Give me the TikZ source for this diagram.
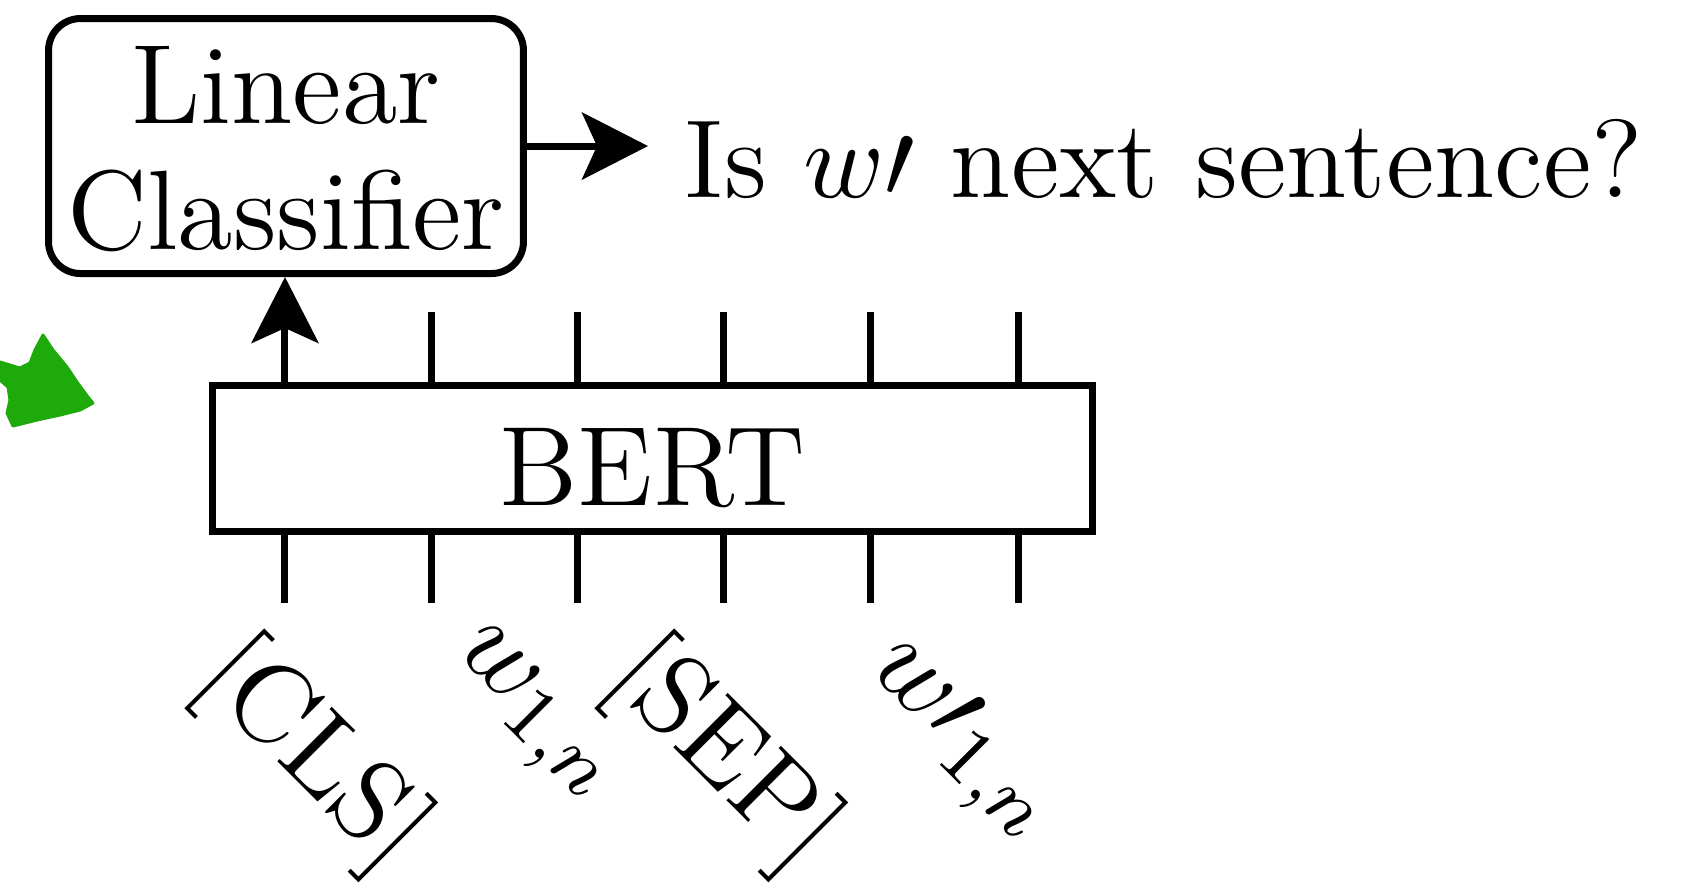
\documentclass[tikz,border=0pt]{standalone}
\usetikzlibrary{arrows.meta}
\definecolor{scribble}{RGB}{30,170,10}
\begin{document}
\begin{tikzpicture}[x=0.1pt,y=-0.1pt,
  every node/.style={font=\fontsize{11.3}{12.6}\selectfont},
  thick line/.style={line width=0.7pt},
  arr/.style={thick line,-{Stealth[length=6.6pt,width=6.7pt,inset=1.5pt]}},
  tick/.style={thick line},
  lbl/.style={rotate=-45,anchor=center,inner sep=0pt}]
\useasboundingbox (0,0) rectangle (1695,882);
% green scribble
\filldraw[scribble,line width=0.3pt,line join=round] (0,362) -- (20,368) -- (30,363) -- (35,350) -- (43,335) -- (53,350) -- (67,367) -- (77,382) -- (88,397) -- (93,403) -- (80,410) -- (60,415) -- (37,420) -- (13,426) -- (7,413) -- (10,400) -- (8,387) -- (0,380) -- cycle;
% boxes
\node[draw,thick line,rounded corners=3.2pt,minimum width=47.5pt,minimum height=25.5pt,align=center,inner sep=0pt] (cls) at (286,146) {\rule{0pt}{8.4pt}Linear\\Classifier};
\node[draw,thick line,minimum width=88.1pt,minimum height=14.6pt,text height=9.4pt,text depth=0pt,inner sep=0pt] (bert) at (652.5,458) {BERT};
\node[anchor=base west,inner xsep=3.5pt,inner ysep=0pt,font=\fontsize{11.1}{12.6}\selectfont] (q) at (648,197) {Is $w\prime$ next sentence?};
\draw[arr] (cls.east) -- (cls.east -| q.west);
% tick coordinates
\coordinate (t1) at (285,312);
\coordinate (t2) at (432,312);
\coordinate (t3) at (578,312);
\coordinate (t4) at (724,312);
\coordinate (t5) at (871,312);
\coordinate (t6) at (1019,312);
\coordinate (b1) at (285,603);
\coordinate (b2) at (432,603);
\coordinate (b3) at (578,603);
\coordinate (b4) at (724,603);
\coordinate (b5) at (871,603);
\coordinate (b6) at (1019,603);
\draw[arr] (bert.north -| t1) -- (t1 |- cls.south);
\foreach \i in {2,...,6} {\draw[tick] (bert.north -| t\i) -- (t\i);}
\foreach \i in {1,...,6} {\draw[tick] (bert.south -| b\i) -- (b\i);}
% labels
\node[lbl] (l1) at (312,756) {[CLS]};
\node[lbl] (l2) at (531,717) {$w_{1,n}$};
\node[lbl] (l3) at (722,756) {[SEP]};
\node[lbl] (l4) at (960,742) {$w\prime_{1,n}$};
\end{tikzpicture}
\end{document}
